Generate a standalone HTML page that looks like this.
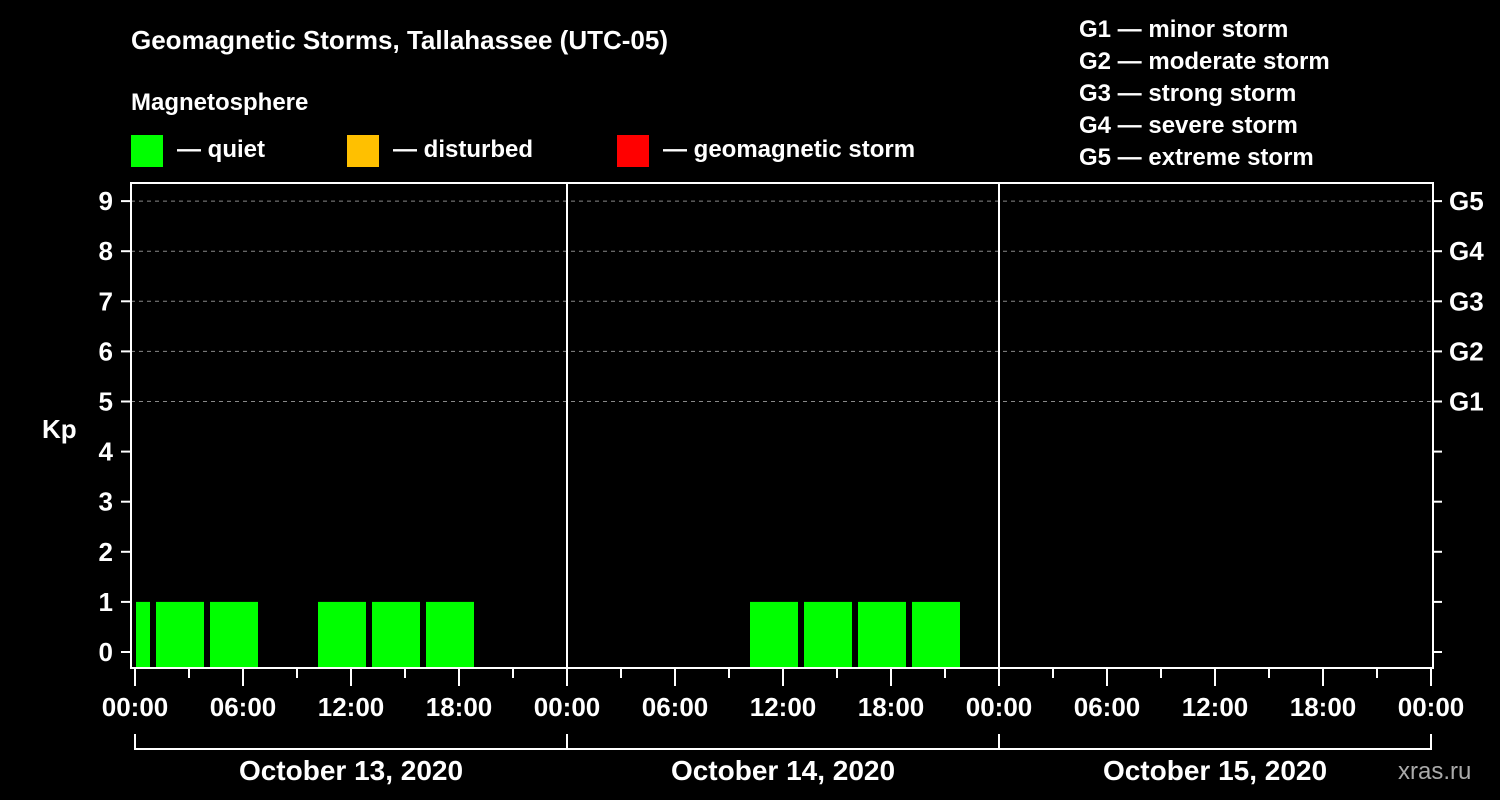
<!DOCTYPE html>
<html><head><meta charset="utf-8"><style>
body{margin:0;background:#000;}
svg{display:block;font-family:"Liberation Sans",Arial,sans-serif;font-weight:bold;}
</style></head><body>
<svg id="chart" width="1500" height="800" viewBox="0 0 1500 800">
<rect width="1500" height="800" fill="#000"/>
<text x="131" y="49" fill="#fff" font-size="26">Geomagnetic Storms, Tallahassee (UTC-05)</text>
<text x="131" y="110" fill="#fff" font-size="24">Magnetosphere</text>
<g><rect x="131" y="135" width="32" height="32" fill="#00ff00"/><text x="177" y="157" fill="#fff" font-size="24">— quiet</text></g>
<g><rect x="347" y="135" width="32" height="32" fill="#ffc000"/><text x="393" y="157" fill="#fff" font-size="24">— disturbed</text></g>
<g><rect x="617" y="135" width="32" height="32" fill="#ff0000"/><text x="663" y="157" fill="#fff" font-size="24">— geomagnetic storm</text></g>
<g fill="#fff" font-size="24">
<text x="1079" y="37">G1 — minor storm</text>
<text x="1079" y="69">G2 — moderate storm</text>
<text x="1079" y="101">G3 — strong storm</text>
<text x="1079" y="133">G4 — severe storm</text>
<text x="1079" y="165">G5 — extreme storm</text>
</g>
<text x="42" y="438" fill="#fff" font-size="26">Kp</text>
<text x="1398" y="779" fill="#aaa" font-size="24" font-weight="normal">xras.ru</text>
<g id="grid"></g><g id="bars"></g><g id="axes"></g>
</svg>
<script>
const days=["October 13, 2020","October 14, 2020","October 15, 2020"];
const kpStart=[-2,1,4,10,13,16,34,37,40,43];
const kpValues=[1,1,1,1,1,1,1,1,1,1];
const yTicks=[0,1,2,3,4,5,6,7,8,9];
const gLabels=["G1","G2","G3","G4","G5"];
const hourLabels=["00:00","06:00","12:00","18:00"];
const NS="http://www.w3.org/2000/svg";
const X0=135,PH=18,L=131,R=1433,T=183,B=668;
const xs=h=>X0+h*PH, ys=k=>652-k*50.1;
function mk(t,a,p){const e=document.createElementNS(NS,t);for(const k in a)e.setAttribute(k,a[k]);p.appendChild(e);return e;}
const grid=document.getElementById('grid'),bars=document.getElementById('bars'),axes=document.getElementById('axes');
yTicks.forEach(k=>{
 if(k>=5){const g=mk('line',{x1:L,x2:R,y1:ys(k),y2:ys(k),stroke:'#888','stroke-dasharray':'4,4'},grid);
 
 }
 mk('line',{x1:121,x2:L,y1:ys(k),y2:ys(k),stroke:'#fff','stroke-width':2},axes);
 mk('line',{x1:R,x2:R+9,y1:ys(k),y2:ys(k),stroke:'#fff','stroke-width':2},axes);
 const t=mk('text',{x:113,y:ys(k)+9,fill:'#fff','font-size':26,'text-anchor':'end'},axes);t.textContent=k;
 
 
});
gLabels.forEach((g,i)=>{const t=mk('text',{x:1449,y:ys(5+i)+9,fill:'#fff','font-size':26},axes);t.textContent=g;
 
 });
kpStart.forEach((s,i)=>{
 const x1=Math.max(xs(s)+3,X0+1),x2=xs(s+3)-3;
 const v=kpValues[i];const c=v<4?'#00ff00':(v<5?'#ffc000':'#ff0000');
 const r=mk('rect',{x:x1,y:ys(v),width:x2-x1,height:B-ys(v),fill:c},bars);
 
 
});
mk('rect',{x:L,y:T,width:R-L,height:B-T,fill:'none',stroke:'#fff','stroke-width':2},axes);
for(let d=1;d<3;d++)mk('line',{x1:xs(24*d),x2:xs(24*d),y1:T,y2:B,stroke:'#fff','stroke-width':2},axes);
for(let h=0;h<=72;h+=3){const maj=h%6==0;mk('line',{x1:xs(h),x2:xs(h),y1:B,y2:maj?686:678,stroke:'#fff','stroke-width':2},axes);
 if(maj){const t=mk('text',{x:xs(h),y:716,fill:'#fff','font-size':26,'text-anchor':'middle'},axes);t.textContent=hourLabels[(h/6)%4];
 
 }}
mk('path',{d:`M${xs(0)} 734V749H${xs(72)}V734M${xs(24)} 734V749M${xs(48)} 734V749`,stroke:'#fff','stroke-width':2,fill:'none'},axes);
days.forEach((d,i)=>{const t=mk('text',{x:xs(24*i+12),y:780,fill:'#fff','font-size':28,'text-anchor':'middle'},axes);t.textContent=d;
 
 });
</script>
</body></html>
